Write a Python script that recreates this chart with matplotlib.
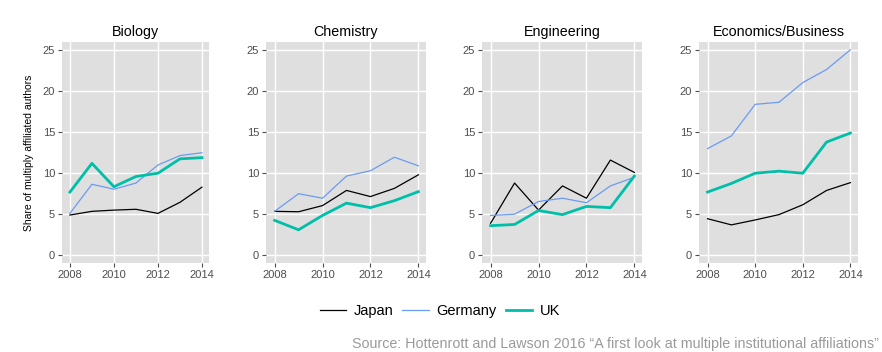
import matplotlib
matplotlib.use("Agg")
import matplotlib.pyplot as plt
from matplotlib.lines import Line2D

plt.rcParams['font.family'] = ['Liberation Sans', 'DejaVu Sans']

years = [2008, 2009, 2010, 2011, 2012, 2013, 2014]
fields = ["Biology", "Chemistry", "Engineering", "Economics/Business"]

japan = {
    "Biology": [4.9, 5.35, 5.5, 5.6, 5.1, 6.45, 8.3],
    "Chemistry": [5.35, 5.3, 6.05, 7.9, 7.15, 8.15, 9.8],
    "Engineering": [3.9, 8.8, 5.5, 8.45, 6.95, 11.6, 10.1],
    "Economics/Business": [4.45, 3.7, 4.3, 4.95, 6.15, 7.9, 8.85],
}
germany = {
    "Biology": [5.1, 8.65, 8.05, 8.8, 11.0, 12.15, 12.5],
    "Chemistry": [5.35, 7.5, 6.95, 9.65, 10.3, 11.95, 10.9],
    "Engineering": [4.85, 5.0, 6.55, 6.95, 6.4, 8.45, 9.5],
    "Economics/Business": [13.0, 14.55, 18.4, 18.65, 21.05, 22.65, 25.05],
}
uk = {
    "Biology": [7.7, 11.2, 8.35, 9.6, 10.0, 11.75, 11.9],
    "Chemistry": [4.25, 3.1, 4.85, 6.35, 5.8, 6.65, 7.75],
    "Engineering": [3.6, 3.75, 5.45, 4.95, 5.95, 5.8, 9.65],
    "Economics/Business": [7.7, 8.75, 10.0, 10.25, 10.0, 13.8, 14.9],
}

series_names = ["Japan", "Germany", "UK"]
series_data = [japan, germany, uk]
colors = ["#000000", "#6A9BF4", "#00BFA8"]
widths = [0.9, 0.9, 2.0]

W, H = 882, 352
fig = plt.figure(figsize=(W / 100, H / 100), dpi=100)

panels_px = [(62, 209), (266, 426), (482, 642), (699, 858)]
top_px, bot_px = 42, 263

for (l, r), field in zip(panels_px, fields):
    ax = fig.add_axes([l / W, 1 - bot_px / H, (r - l) / W, (bot_px - top_px) / H])
    ax.set_facecolor("#DFDFDF")
    for name, data, c, lw in zip(series_names, series_data, colors, widths):
        ax.plot(years, data[field], color=c, lw=lw, solid_joinstyle="round", zorder=3)
    ax.set_xlim(2007.64, 2014.32)
    ax.set_ylim(-0.95, 26.0)
    ax.set_xticks([2008, 2010, 2012, 2014])
    ax.set_yticks([0, 5, 10, 15, 20, 25])
    ax.grid(True, color="white", lw=1.0, zorder=1)
    ax.set_axisbelow(True)
    for s in ax.spines.values():
        s.set_visible(False)
    ax.tick_params(axis="both", colors="#4D4D4D", labelsize=8, length=3, width=0.8,
                   labelcolor="#4D4D4D", pad=2)
    ax.set_title(field, fontsize=10.3, pad=4, color="black")
    if field == "Biology":
        ax.set_ylabel("Share of multiply affiliated authors", fontsize=7.5, labelpad=6)

handles = [Line2D([0], [0], color=c, lw=lw) for c, lw in zip(colors, widths)]
fig.legend(handles, series_names, loc="center", bbox_to_anchor=(440 / W, 1 - 311 / H),
           ncol=3, frameon=False, fontsize=10.5, handlelength=1.8, handletextpad=0.55,
           columnspacing=0.6, borderpad=0.2)

fig.text(879 / W, 1 - 344 / H,
         "Source: Hottenrott and Lawson 2016 \u201cA first look at multiple institutional affiliations\u201d",
         ha="right", va="center", fontsize=10.3, color="#9A9A9A")

fig.savefig("out.png", dpi=100)
